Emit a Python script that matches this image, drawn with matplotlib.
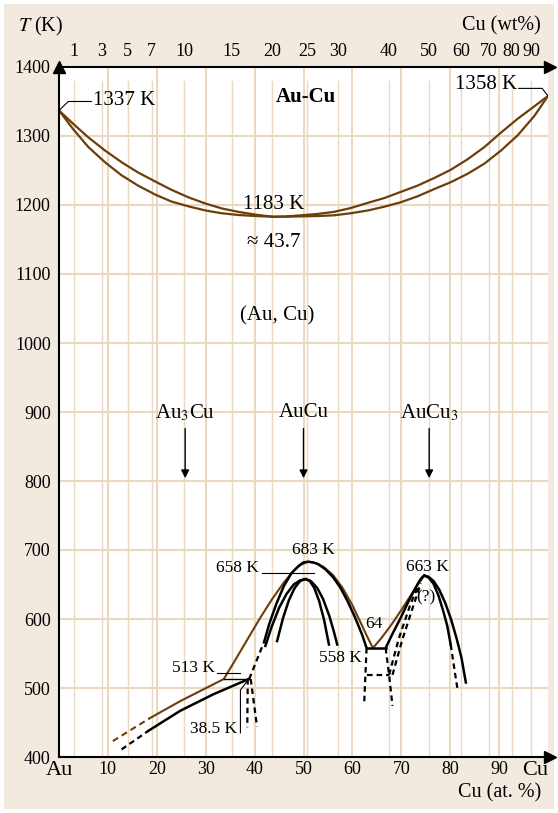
import matplotlib.pyplot as plt
import numpy as np
from matplotlib.patches import Rectangle

plt.rcParams['font.family'] = ['Liberation Serif', 'DejaVu Serif']
plt.rcParams['mathtext.fontset'] = 'stix'

BROWN = '#6b3f0c'
GRID = '#ead9c2'
BG = '#f2eadf'

# atomic masses for the wt% <-> at% scale
M_AU, M_CU = 196.97, 63.55

# liquidus / solidus, Cu at.% vs T (K)
liq_c = [0, 3, 6, 9.4, 12.8, 16.2, 19.7, 23, 26.5, 30, 33.3, 36.7, 40.2, 43.7,
         46.5, 49.4, 52.8, 56.2, 59.6, 63.1, 66.5, 69.9, 73.3, 76.7, 80.1, 83.5,
         87, 90.4, 93.8, 97.2, 100]
liq_T = [1337, 1317, 1298, 1279, 1262, 1247, 1234, 1222, 1211, 1202, 1195, 1190, 1186, 1183,
         1183.5, 1185, 1187, 1190, 1195.5, 1203, 1210, 1219, 1228, 1239, 1251, 1266,
         1284, 1305, 1325, 1343, 1358]
sol_c = [0, 3, 6, 9.4, 12.8, 16.2, 19.7, 23, 26.5, 30, 33.3, 36.7, 40.2, 43.7,
         46.5, 49.4, 52.8, 56.2, 59.6, 63.1, 66.5, 69.9, 73.3, 76.7, 80.1, 83.5,
         87, 90.4, 93.8, 97.2, 100]
sol_T = [1337, 1309, 1284, 1262, 1243, 1228, 1215, 1205, 1198, 1192, 1188, 1185.5, 1184, 1183,
         1183, 1183.5, 1184, 1185, 1188, 1192, 1197.5, 1204, 1212.5, 1223, 1233, 1245,
         1260, 1279, 1301, 1329, 1358]

# ordering boundary (brown)
br_dash_c = [11, 18.5]
br_dash_T = [423, 456]
br_c = [18.5, 24.8, 33.7, 36.0, 38.5, 41.0, 43.5, 46.0, 48.0, 49.5, 51.0, 52.5, 54.0,
        56.0, 58.0, 60.0, 62.0, 63.2, 64.2, 66.0, 68.0, 70.0, 72.0, 73.5, 74.7]
br_T = [456, 481, 513, 540, 570, 600, 628, 653, 670, 679, 683, 681, 676,
        664, 645, 620, 590, 572, 558, 573, 592, 613, 635, 651, 663]

# Au3Cu side (black)
au3_dash_c = [12.8, 18.3]
au3_dash_T = [411, 438]
au3_c = [18.3, 24.8, 31.6, 38.8]
au3_T = [438, 467, 491, 513]
plat513_c = [33.7, 38.8]
plat513_T = [513, 513]
drop1_c, drop1_T = [38.6, 38.5], [513, 443]
drop2_c, drop2_T = [39.2, 40.5], [513, 444]

# AuCu I dome (683 K)
auc1_dash_c = [38.9, 42.0]
auc1_dash_T = [513, 568]
auc1_c = [42.0, 43.0, 44.5, 46.0, 47.5, 49.0, 50.0, 51.0, 52.0, 53.0, 54.5, 56.0,
          57.5, 59.0, 60.5, 62.0, 62.9]
auc1_T = [568, 593, 623, 648, 666, 677, 682, 683, 682, 679.5, 672, 661,
          646, 626, 603, 577, 558]

# AuCu II domes (658 K)
d1_c = [42.2, 43.5, 45.0, 46.5, 48.0, 49.3, 50.4, 51.5, 52.8, 54.0, 55.3, 56.2, 56.9]
d1_T = [561, 589, 616, 636, 650, 656, 658, 655, 645, 629, 604, 582, 563]
d2_c = [44.6, 45.8, 47.0, 48.2, 49.3, 50.4, 51.3, 52.2, 53.2, 54.2, 55.2]
d2_T = [568, 601, 627, 645, 655, 658, 655, 645, 626, 599, 563]

# 558 K platform and metastable box
plat558_c = [62.9, 66.8]
plat558_T = [558, 558]
box_l_c, box_l_T = [62.9, 62.4], [558, 476]
box_h_c, box_h_T = [62.9, 67.5], [519, 519]
box_r_c, box_r_T = [66.8, 67.5, 68.2], [558, 519, 474]

# AuCu3 dome (663 K)
auc3_c = [66.8, 68.3, 69.9, 71.3, 72.6, 73.6, 74.2, 74.7, 75.6, 76.6, 77.8, 79.0,
          80.2, 81.3, 82.3, 83.2]
auc3_T = [558, 580, 602, 623, 641, 654, 660, 663, 661, 655, 642, 623,
          599, 572, 544, 508]
auc3_in_c = [74.7, 75.6, 76.6, 77.6, 78.6, 79.4, 80.1]
auc3_in_T = [663, 660, 651, 634, 611, 590, 563]
auc3_in_dash_c = [80.1, 80.8, 81.5]
auc3_in_dash_T = [563, 530, 498]
auc3_d1_c = [67.5, 69.5, 71.9, 73.6]
auc3_d1_T = [519, 572, 622, 650]
auc3_d2_c = [68.2, 70.2, 72.5, 74.0]
auc3_d2_T = [519, 570, 620, 652]

at_ticks = [0, 10, 20, 30, 40, 50, 60, 70, 80, 90, 100]
at_labels = ['Au', '10', '20', '30', '40', '50', '60', '70', '80', '90', 'Cu']
wt_ticks = [1, 3, 5, 7, 10, 15, 20, 25, 30, 40, 50, 60, 70, 80, 90]
T_ticks = list(range(400, 1401, 100))

phases = ['Au$_3$Cu', 'AuCu', 'AuCu$_3$']
phase_c = [25.8, 50.0, 75.7]


def wt_to_at(w):
    w = np.asarray(w, dtype=float)
    n_cu = w / M_CU
    n_au = (100 - w) / M_AU
    return 100 * n_cu / (n_cu + n_au)


def at_to_wt(a):
    a = np.asarray(a, dtype=float)
    m_cu = a * M_CU
    m_au = (100 - a) * M_AU
    return 100 * m_cu / (m_cu + m_au)


fig = plt.figure(figsize=(5.58, 8.13), dpi=100)
fig.patch.set_facecolor('white')
fig.patches.append(Rectangle((4 / 558, 4 / 813), 550 / 558, 805 / 813,
                             transform=fig.transFigure, facecolor=BG,
                             edgecolor='none', zorder=-10))
ax = fig.add_axes([59 / 558, 56 / 813, 489 / 558, 690 / 813])
ax.set_facecolor('white')
ax.set_xlim(0, 100)
ax.set_ylim(400, 1400)

# grid
for c in at_ticks[1:-1]:
    ax.axvline(c, color=GRID, lw=1.5, zorder=0)
for w in wt_ticks:
    ax.plot([wt_to_at(w)] * 2, [400, 1380], color=GRID, lw=1.0, zorder=0)
for t in T_ticks[1:-1]:
    ax.axhline(t, color=GRID, lw=1.5, zorder=0)

# spines with arrow heads
ax.spines['right'].set_visible(False)
for s in ['left', 'top', 'bottom']:
    ax.spines[s].set_linewidth(1.5)
ax.plot(0, 1, '^', ms=8, color='k', transform=ax.transAxes, clip_on=False)
ax.plot(1.005, 1, '>', ms=8, color='k', transform=ax.transAxes, clip_on=False)
ax.plot(1.005, 0, '>', ms=8, color='k', transform=ax.transAxes, clip_on=False)

ax.set_xticks(at_ticks)
ax.set_xticklabels(at_labels)
ax.set_yticks(T_ticks)
ax.tick_params(length=0, labelsize=13)
ax.tick_params(axis='x', pad=3)
ax.tick_params(axis='y', pad=6)
for lab in ax.get_xticklabels():
    if lab.get_text() in ('Au', 'Cu'):
        lab.set_fontsize(16)
    if lab.get_text() == 'Cu':
        lab.set_horizontalalignment('right')

top = ax.secondary_xaxis('top', functions=(at_to_wt, wt_to_at))
top.set_xticks(wt_ticks)
top.tick_params(length=0, labelsize=13, pad=5)
top.spines['top'].set_visible(False)

# liquidus and solidus
ax.plot(liq_c, liq_T, color=BROWN, lw=1.6)
ax.plot(sol_c, sol_T, color=BROWN, lw=1.6)

# ordering lines
ax.plot(br_dash_c, br_dash_T, color=BROWN, lw=1.5, ls=(0, (3, 2)))
ax.plot(br_c, br_T, color=BROWN, lw=1.5)

kw = dict(color='k', lw=1.8)
dkw = dict(color='k', lw=1.6, ls=(0, (2.5, 1.8)))
ax.plot(au3_dash_c, au3_dash_T, **dkw)
ax.plot(au3_c, au3_T, **kw)
ax.plot(plat513_c, plat513_T, color='k', lw=1.0)
ax.plot(drop1_c, drop1_T, **dkw)
ax.plot(drop2_c, drop2_T, **dkw)
ax.plot(auc1_dash_c, auc1_dash_T, **dkw)
ax.plot(auc1_c, auc1_T, **kw)
ax.plot(d1_c, d1_T, **kw)
ax.plot(d2_c, d2_T, **kw)
ax.plot(plat558_c, plat558_T, **kw)
ax.plot(box_l_c, box_l_T, **dkw)
ax.plot(box_h_c, box_h_T, **dkw)
ax.plot(box_r_c, box_r_T, **dkw)
ax.plot(auc3_c, auc3_T, **kw)
ax.plot(auc3_in_c, auc3_in_T, **kw)
ax.plot(auc3_in_dash_c, auc3_in_dash_T, **dkw)
ax.plot(auc3_d1_c, auc3_d1_T, **dkw)
ax.plot(auc3_d2_c, auc3_d2_T, **dkw)

# leaders
thin = dict(color='k', lw=0.8)
ax.plot([0, 1.9, 6.6], [1337, 1350, 1350], **thin)
ax.plot([94.0, 98.8, 100], [1369, 1369, 1358], **thin)
ax.plot([41.5, 52.1], [666, 666], **thin)
ax.plot([32.3, 37.1], [522, 522], **thin)
ax.plot([37.1, 37.1, 38.8], [435, 497, 513], **thin)

# labels
big = 15
small = 12.5
ax.text(7.0, 1351, '1337 K', fontsize=big, va='center', ha='left')
ax.text(93.6, 1374, '1358 K', fontsize=big, va='center', ha='right')
ax.text(50.5, 1356, 'Au-Cu', fontsize=big, fontweight='bold', va='center', ha='center')
ax.text(43.9, 1200, '1183 K', fontsize=big, va='center', ha='center')
ax.text(43.9, 1146, '≈ 43.7', fontsize=big, va='center', ha='center')
ax.text(44.7, 1039, '(Au, Cu)', fontsize=big, va='center', ha='center')
for name, c in zip(phases, phase_c):
    ax.text(c, 899, name, fontsize=big, va='center', ha='center')
    ax.annotate('', xy=(c, 800), xytext=(c, 880),
                arrowprops=dict(arrowstyle='-|>', color='k', lw=1.0,
                                mutation_scale=12))
ax.text(52.1, 700, '683 K', fontsize=small, va='center', ha='center')
ax.text(40.8, 674, '658 K', fontsize=small, va='center', ha='right')
ax.text(75.3, 675, '663 K', fontsize=small, va='center', ha='center')
ax.text(75.0, 631, '(?)', fontsize=small, va='center', ha='center')
ax.text(64.5, 593, '64', fontsize=small, va='center', ha='center')
ax.text(62.0, 544, '558 K', fontsize=small, va='center', ha='right')
ax.text(32.0, 529, '513 K', fontsize=small, va='center', ha='right')
ax.text(36.4, 441, '38.5 K', fontsize=small, va='center', ha='right')

fig.text(18 / 558, 1 - 26 / 813, '$T$ (K)', fontsize=14.5, va='center', ha='left')
fig.text(541 / 558, 1 - 26 / 813, 'Cu (wt%)', fontsize=14.5, va='center', ha='right')
fig.text(541 / 558, 1 - 793 / 813, 'Cu (at. %)', fontsize=14.5, va='center', ha='right')

fig.savefig('out.png', dpi=100, facecolor=fig.get_facecolor())
